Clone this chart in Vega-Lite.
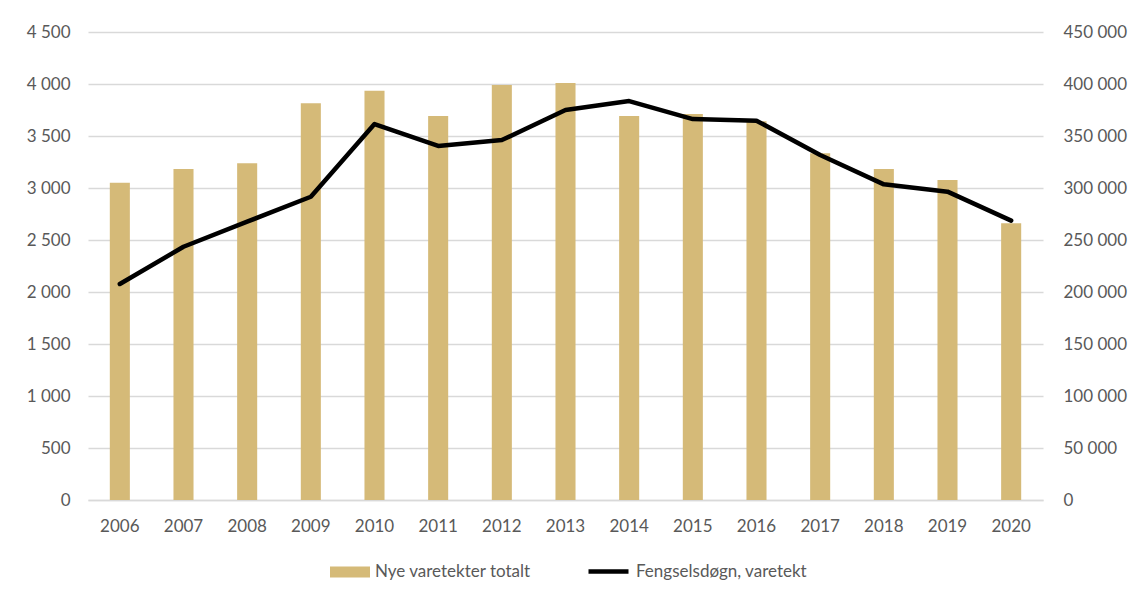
{
  "$schema": "https://vega.github.io/schema/vega-lite/v6.json",
  "width": 955,
  "height": 468,
  "autosize": {"type": "none"},
  "padding": {"left": 88, "top": 32, "right": 90, "bottom": 99},
  "background": "white",
  "config": {
    "locale": {"number": {"decimal": ",", "thousands": " ", "grouping": [3], "currency": ["", ""]}},
    "font": "Lato",
    "view": {"stroke": null},
    "axis": {"labelFont": "Lato", "labelFontSize": 17, "labelColor": "#595959", "ticks": false, "domain": false, "title": null}
  },
  "data": {
    "values": [
      {"year": "2006", "nye": 3050, "dogn": 207700},
      {"year": "2007", "nye": 3183, "dogn": 243500},
      {"year": "2008", "nye": 3237, "dogn": 267600},
      {"year": "2009", "nye": 3814, "dogn": 291600},
      {"year": "2010", "nye": 3936, "dogn": 361500},
      {"year": "2011", "nye": 3692, "dogn": 340400},
      {"year": "2012", "nye": 3990, "dogn": 346100},
      {"year": "2013", "nye": 4010, "dogn": 375000},
      {"year": "2014", "nye": 3692, "dogn": 383600},
      {"year": "2015", "nye": 3712, "dogn": 366300},
      {"year": "2016", "nye": 3643, "dogn": 364700},
      {"year": "2017", "nye": 3333, "dogn": 331700},
      {"year": "2018", "nye": 3183, "dogn": 303500},
      {"year": "2019", "nye": 3077, "dogn": 296500},
      {"year": "2020", "nye": 2660, "dogn": 268600}
    ]
  },
  "encoding": {
    "x": {
      "field": "year",
      "type": "ordinal",
      "scale": {"paddingInner": 0.685, "paddingOuter": 0.3425},
      "axis": {"labelAngle": 0, "labelPadding": 18, "domain": true, "domainColor": "#D9D9D9", "domainWidth": 1.5, "grid": false}
    }
  },
  "layer": [
    {
      "mark": {"type": "bar"},
      "encoding": {
        "y": {
          "field": "nye",
          "type": "quantitative",
          "scale": {"domain": [0, 4500], "nice": false},
          "axis": {"orient": "left", "values": [0, 500, 1000, 1500, 2000, 2500, 3000, 3500, 4000, 4500], "format": ",d", "grid": true, "gridColor": "#D9D9D9", "gridWidth": 1.5, "labelPadding": 18}
        },
        "fill": {
          "datum": "Nye varetekter totalt",
          "type": "nominal",
          "scale": {"range": ["#D5BA78"]},
          "legend": {
            "orient": "none", "legendX": 242, "legendY": 520, "title": null,
            "symbolType": "M-1,-0.28H1V0.28H-1Z", "symbolSize": 1600, "symbolStrokeWidth": 0,
            "labelFont": "Lato", "labelFontSize": 17, "labelColor": "#595959", "labelOffset": 5, "labelLimit": 400
          }
        }
      }
    },
    {
      "mark": {"type": "line", "strokeWidth": 4.5, "strokeJoin": "round", "strokeCap": "round"},
      "encoding": {
        "y": {
          "field": "dogn",
          "type": "quantitative",
          "scale": {"domain": [0, 450000], "nice": false},
          "axis": {"orient": "right", "values": [0, 50000, 100000, 150000, 200000, 250000, 300000, 350000, 400000, 450000], "format": ",d", "grid": false, "labelPadding": 20}
        },
        "stroke": {
          "datum": "Fengselsdøgn, varetekt",
          "type": "nominal",
          "scale": {"range": ["#000000"]},
          "legend": {
            "orient": "none", "legendX": 498, "legendY": 517, "title": null,
            "symbolType": "stroke", "symbolSize": 1600, "symbolStrokeWidth": 4.5,
            "labelFont": "Lato", "labelFontSize": 17, "labelColor": "#595959", "labelOffset": 5, "labelLimit": 400
          }
        }
      }
    }
  ],
  "resolve": {"scale": {"y": "independent"}}
}
